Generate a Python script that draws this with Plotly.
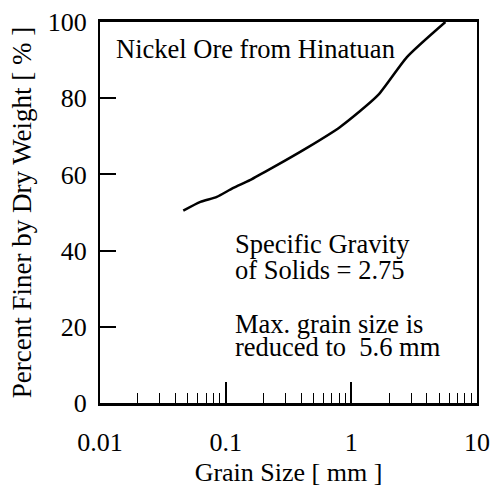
import plotly.graph_objects as go

# Grain size distribution of the nickel ore sample
grain_size_mm = [0.046, 0.063, 0.085, 0.114, 0.156, 0.24, 0.44, 0.81, 1.63, 2.77, 5.6]
percent_finer = [50.5, 52.8, 54.1, 56.4, 58.5, 61.9, 66.9, 72.4, 80.8, 90.8, 100]

x_tick_vals = [0.01, 0.1, 1, 10]
x_tick_text = ["0.01", "0.1", "1", "10"]
y_tick_vals = [0, 20, 40, 60, 80, 100]
minor_x_vals = [m * d for d in (0.01, 0.1, 1) for m in range(2, 10)]

FONT = "Times New Roman, Liberation Serif, DejaVu Serif, serif"

fig = go.Figure()
fig.add_trace(go.Scatter(
    x=grain_size_mm, y=percent_finer, mode="lines",
    line=dict(color="black", width=2.5, shape="spline", smoothing=0.6),
    showlegend=False, hoverinfo="skip",
))

fig.update_layout(
    width=491, height=487,
    margin=dict(l=100, r=14, t=22, b=84, autoexpand=False),
    paper_bgcolor="white", plot_bgcolor="white",
    font=dict(family=FONT, size=26, color="black"),
    xaxis=dict(
        type="log", range=[-2, 1], automargin=False,
        tickmode="array", tickvals=x_tick_vals, ticktext=x_tick_text,
        ticks="inside", ticklen=21, tickwidth=1.5, tickcolor="black",
        showline=True, linecolor="black", linewidth=2.6, mirror=True,
        showgrid=False, zeroline=False,
        ticklabelstandoff=14,
        tickfont=dict(family=FONT, size=26),
        minor=dict(tickmode="array", tickvals=minor_x_vals, ticks="inside",
                   ticklen=10, tickwidth=1, tickcolor="black", showgrid=False),
        title=dict(text="Grain Size [ mm ]", standoff=10,
                   font=dict(family=FONT, size=26)),
    ),
    yaxis=dict(
        range=[0, 100], automargin=False,
        tickmode="array", tickvals=y_tick_vals,
        ticks="inside", ticklen=16, tickwidth=1.5, tickcolor="black",
        showline=True, linecolor="black", linewidth=2.2, mirror=True,
        showgrid=False, zeroline=False,
        ticklabelstandoff=6,
        tickfont=dict(family=FONT, size=26),
        title=dict(text="Percent Finer by Dry Weight [ % ]", standoff=8,
                   font=dict(family=FONT, size=27)),
    ),
)

notes = [
    ("Nickel Ore from Hinatuan", 0.036, 0.929),
    ("Specific Gravity", 0.352, 0.417),
    ("of Solids = 2.75", 0.352, 0.348),
    ("Max. grain size is", 0.352, 0.207),
    ("reduced to  5.6 mm", 0.352, 0.146),
]
for text, xp, yp in notes:
    fig.add_annotation(
        text=text, xref="paper", yref="paper", x=xp, y=yp,
        xanchor="left", yanchor="middle", showarrow=False,
        font=dict(family=FONT, size=26.5, color="black"),
    )

fig.write_html("out.html")
